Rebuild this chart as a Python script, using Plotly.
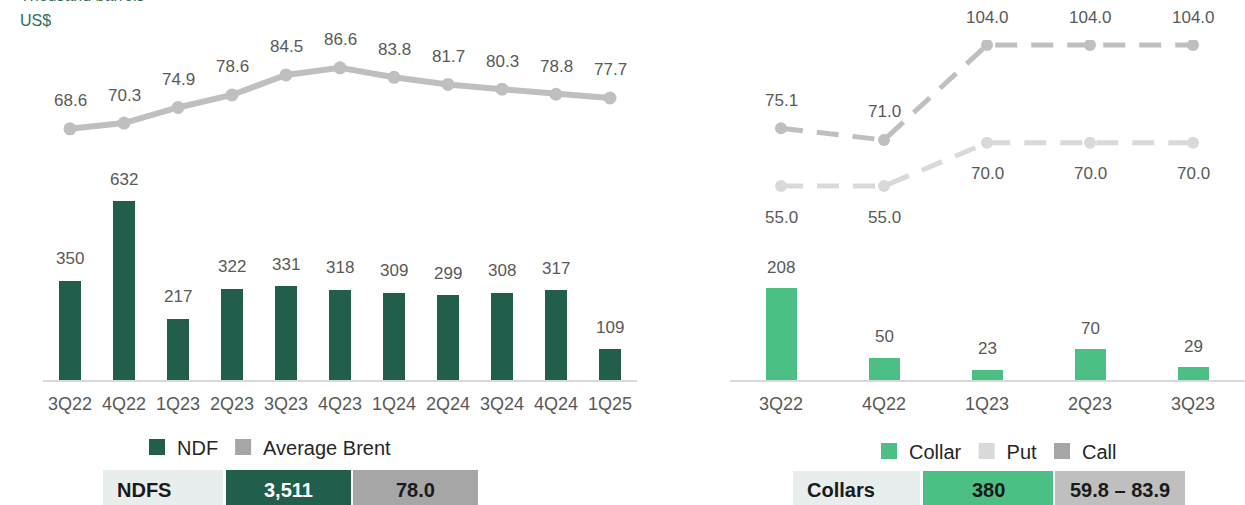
import plotly.graph_objects as go

# ---- data ----
ndf_quarters = ["3Q22", "4Q22", "1Q23", "2Q23", "3Q23", "4Q23", "1Q24", "2Q24", "3Q24", "4Q24", "1Q25"]
ndf_volume = [350, 632, 217, 322, 331, 318, 309, 299, 308, 317, 109]
avg_brent = [68.6, 70.3, 74.9, 78.6, 84.5, 86.6, 83.8, 81.7, 80.3, 78.8, 77.7]

collar_quarters = ["3Q22", "4Q22", "1Q23", "2Q23", "3Q23"]
collar_volume = [208, 50, 23, 70, 29]
put_strike = [55.0, 55.0, 70.0, 70.0, 70.0]
call_strike = [75.1, 71.0, 104.0, 104.0, 104.0]

ndf_summary = ["NDFS", "3,511", "78.0"]
collar_summary = ["Collars", "380", "59.8 – 83.9"]

# ---- styling ----
W, H = 1245, 505
DARK_GREEN = "#215E4B"
LIGHT_GREEN = "#4CBF84"
LINE_GRAY = "#BFBFBF"
PUT_GRAY = "#D9D9D9"
SWATCH_GRAY = "#A6A6A6"
LABEL = "#595959"
FONT = "Liberation Sans, Arial, sans-serif"


def px_x(p):
    return p / W


def px_y(p):
    return (H - p) / H


plot_dom = [px_y(380), px_y(40)]

fig = go.Figure()

# left panel: NDF volumes and average Brent
fig.add_trace(go.Bar(x=ndf_quarters, y=ndf_volume, marker=dict(color=DARK_GREEN, line=dict(width=0)),
                     width=0.39, xaxis="x", yaxis="y", showlegend=False, hoverinfo="skip"))
fig.add_trace(go.Scatter(x=ndf_quarters, y=avg_brent, mode="lines+markers",
                         line=dict(color=LINE_GRAY, width=6),
                         marker=dict(color=LINE_GRAY, size=13),
                         xaxis="x", yaxis="y2", showlegend=False, hoverinfo="skip"))

# right panel: collar volumes with put/call strikes
fig.add_trace(go.Bar(x=collar_quarters, y=collar_volume, marker=dict(color=LIGHT_GREEN, line=dict(width=0)),
                     width=0.3, xaxis="x2", yaxis="y3", showlegend=False, hoverinfo="skip"))
fig.add_trace(go.Scatter(x=collar_quarters, y=put_strike, mode="lines+markers",
                         line=dict(color=PUT_GRAY, width=5, dash="22px,14px"),
                         marker=dict(color=PUT_GRAY, size=12),
                         xaxis="x2", yaxis="y4", showlegend=False, hoverinfo="skip"))
fig.add_trace(go.Scatter(x=collar_quarters, y=call_strike, mode="lines+markers",
                         line=dict(color=LINE_GRAY, width=5, dash="22px,14px"),
                         marker=dict(color=LINE_GRAY, size=12),
                         xaxis="x2", yaxis="y4", showlegend=False, hoverinfo="skip"))

# legend swatches
def swatch(name, color, legend, xa, ya):
    fig.add_trace(go.Scatter(x=[None], y=[None], mode="markers", name=name,
                             marker=dict(symbol="square", size=16, color=color),
                             xaxis=xa, yaxis=ya, legend=legend))


swatch("NDF", DARK_GREEN, "legend", "x", "y")
swatch("Average Brent", SWATCH_GRAY, "legend", "x", "y")
swatch("Collar", LIGHT_GREEN, "legend2", "x2", "y3")
swatch("Put", PUT_GRAY, "legend2", "x2", "y3")
swatch("Call", SWATCH_GRAY, "legend2", "x2", "y3")

annotations = []
lab_font = dict(family=FONT, size=17, color=LABEL)
for q, v in zip(ndf_quarters, ndf_volume):
    annotations.append(dict(x=q, y=v, xref="x", yref="y", text=str(v), showarrow=False,
                            yshift=22, font=lab_font))
for q, v in zip(ndf_quarters, avg_brent):
    annotations.append(dict(x=q, y=v, xref="x", yref="y2", text=f"{v:.1f}", showarrow=False,
                            yshift=28, font=lab_font))
for q, v in zip(collar_quarters, collar_volume):
    annotations.append(dict(x=q, y=v, xref="x2", yref="y3", text=str(v), showarrow=False,
                            yshift=21, font=lab_font))
for q, v in zip(collar_quarters, call_strike):
    annotations.append(dict(x=q, y=v, xref="x2", yref="y4", text=f"{v:.1f}", showarrow=False,
                            yshift=28, font=lab_font))
for q, v in zip(collar_quarters, put_strike):
    annotations.append(dict(x=q, y=v, xref="x2", yref="y4", text=f"{v:.1f}", showarrow=False,
                            yshift=-31, font=lab_font))

# unit captions
unit_font = dict(family=FONT, size=16, color="#2E7058")
annotations.append(dict(x=px_x(18), y=px_y(-4), xref="paper", yref="paper", xanchor="left",
                        yanchor="middle", text="Thousand barrels", showarrow=False, font=unit_font))
annotations.append(dict(x=px_x(18), y=px_y(20), xref="paper", yref="paper", xanchor="left",
                        yanchor="middle", text="US$", showarrow=False, font=unit_font))

# summary rows
shapes = []


def summary_row(cells, texts, y0):
    for (x0, x1, fill, tcolor, align), txt in zip(cells, texts):
        shapes.append(dict(type="rect", xref="paper", yref="paper", x0=px_x(x0), x1=px_x(x1),
                           y0=px_y(H + 5), y1=px_y(y0), fillcolor=fill, line=dict(width=0),
                           layer="below"))
        if align == "left":
            ax, anchor = x0 + 12, "left"
        else:
            ax, anchor = (x0 + x1) / 2, "center"
        annotations.append(dict(x=px_x(ax), y=px_y(490), xref="paper", yref="paper",
                                xanchor=anchor, yanchor="middle", showarrow=False,
                                text=f"<b>{txt}</b>",
                                font=dict(family=FONT, size=20, color=tcolor)))


summary_row([(103, 223, "#E8EEED", "#1A1A1A", "left"),
             (226, 351, DARK_GREEN, "#FFFFFF", "center"),
             (353, 478, SWATCH_GRAY, "#1A1A1A", "center")], ndf_summary, 470)
summary_row([(793, 920, "#E8EEED", "#1A1A1A", "left"),
             (923, 1053, LIGHT_GREEN, "#1A1A1A", "center"),
             (1055, 1185, LINE_GRAY, "#1A1A1A", "center")], collar_summary, 471)

xaxis_common = dict(type="category", showgrid=False, zeroline=False, showline=True,
                    linecolor="#D9D9D9", linewidth=2, ticks="", ticklabelstandoff=6,
                    tickfont=dict(family=FONT, size=18, color=LABEL), fixedrange=True)
yaxis_common = dict(visible=False, showgrid=False, zeroline=False, fixedrange=True)

fig.update_layout(
    width=W, height=H,
    margin=dict(l=0, r=0, t=0, b=0),
    paper_bgcolor="white", plot_bgcolor="white",
    font=dict(family=FONT, color=LABEL),
    bargap=0,
    xaxis=dict(domain=[px_x(43), px_x(637)], range=[-0.5, 10.5], anchor="y",
               categoryorder="array", categoryarray=ndf_quarters, **xaxis_common),
    yaxis=dict(domain=plot_dom, range=[0, 1201], anchor="x", **yaxis_common),
    yaxis2=dict(overlaying="y", range=[-5.46, 94.8], anchor="x", **yaxis_common),
    xaxis2=dict(domain=[px_x(729.5), px_x(1244.5)], range=[-0.5, 4.5], anchor="y3",
                categoryorder="array", categoryarray=collar_quarters, **xaxis_common),
    yaxis3=dict(domain=plot_dom, range=[0, 769], anchor="x2", **yaxis_common),
    yaxis4=dict(overlaying="y3", range=[-12.4, 105.74], anchor="x2", **yaxis_common),
    legend=dict(orientation="h", x=px_x(137), y=px_y(447), xanchor="left", yanchor="middle",
                font=dict(family=FONT, size=20, color="#262626"), bgcolor="rgba(0,0,0,0)",
                itemsizing="trace"),
    legend2=dict(orientation="h", x=px_x(869), y=px_y(451), xanchor="left", yanchor="middle",
                 font=dict(family=FONT, size=20, color="#262626"), bgcolor="rgba(0,0,0,0)",
                 itemsizing="trace"),
    annotations=annotations,
    shapes=shapes,
)

fig.write_html("out.html")
